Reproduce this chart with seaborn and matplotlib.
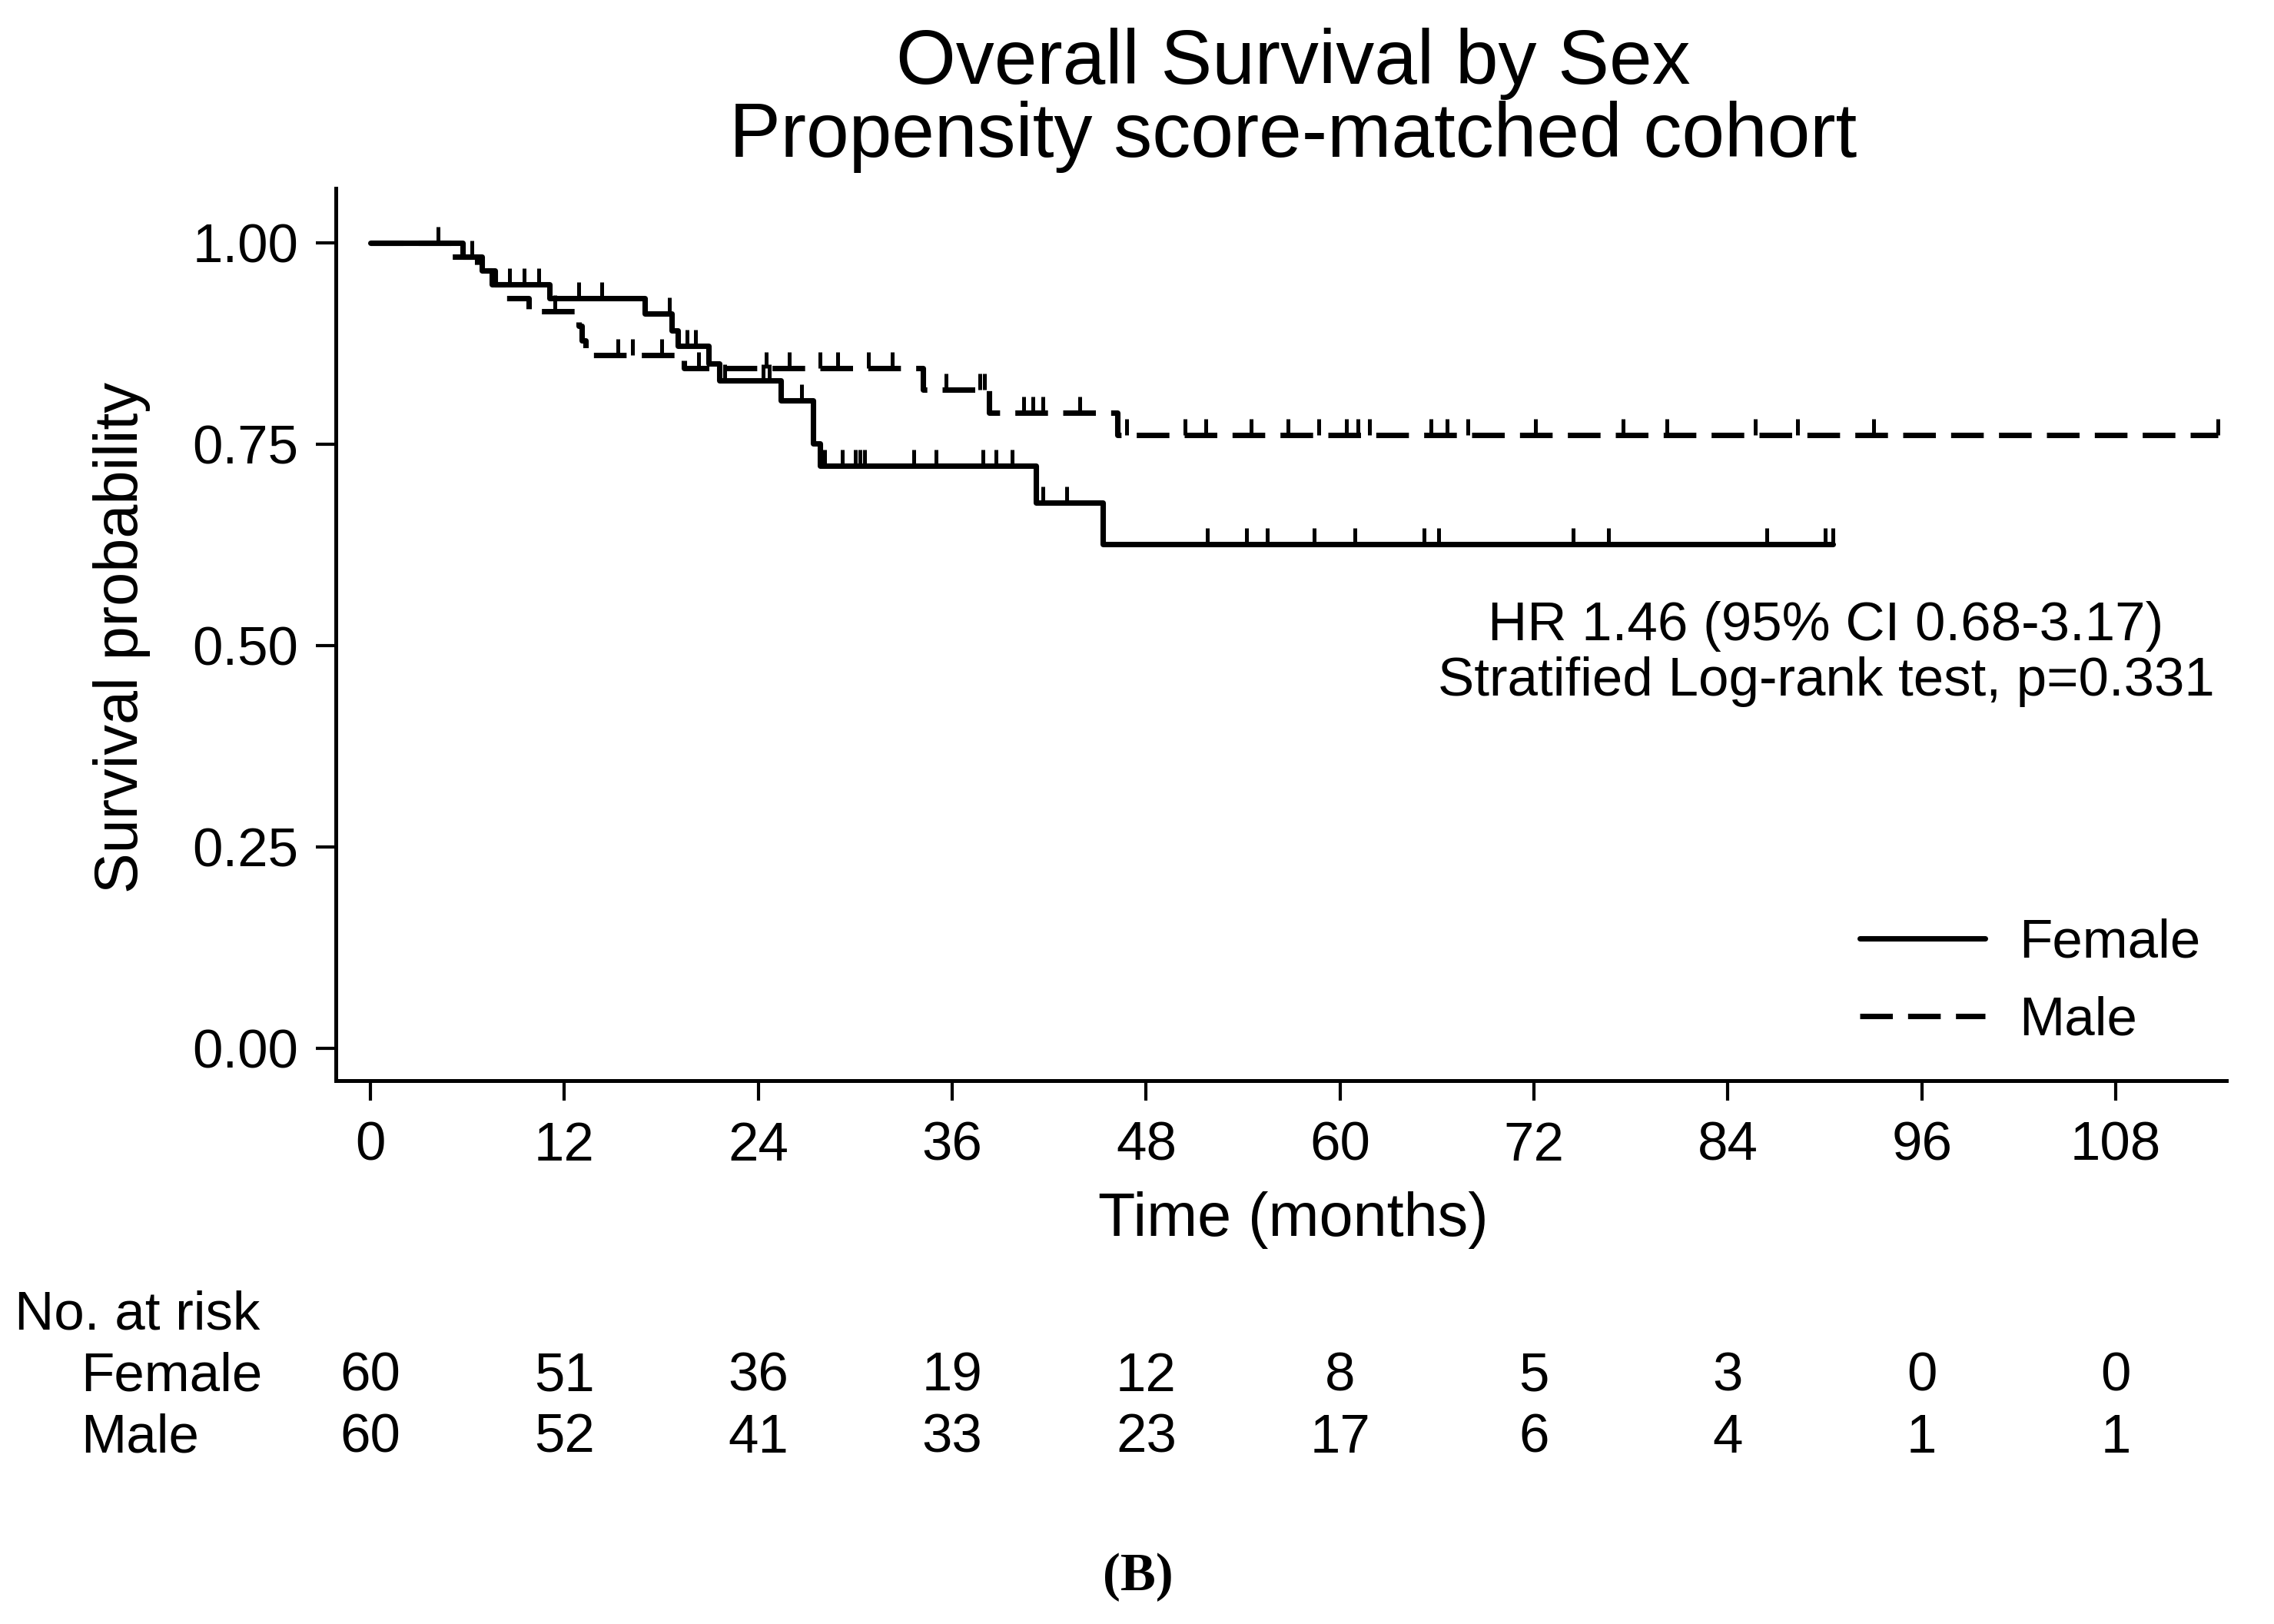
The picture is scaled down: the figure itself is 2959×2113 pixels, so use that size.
import numpy as np
import matplotlib
matplotlib.use("Agg")
import matplotlib.pyplot as plt
from matplotlib.path import Path
from matplotlib.markers import MarkerStyle
from matplotlib.transforms import blended_transform_factory
import seaborn as sns

# Kaplan-Meier steps (time in months, survival probability)
female_time = [0, 5.7, 6.9, 7.7, 11.1, 17.0, 18.65, 19.0, 20.9, 21.6, 25.4, 27.4, 27.8, 41.2, 45.3, 90.5]
female_surv = [1.0, 0.983, 0.966, 0.948, 0.931, 0.912, 0.891, 0.872, 0.850, 0.829, 0.804, 0.751, 0.723, 0.677, 0.626, 0.626]
female_censor = [4.2, 6.3, 8.6, 9.5, 10.4, 12.9, 14.3, 18.5, 19.6, 20.1, 21.9, 24.3, 24.7, 26.7,
                 28.1, 29.2, 30.0, 30.3, 30.6, 33.6, 35.0, 37.9, 38.7, 39.7, 41.6, 43.1,
                 51.8, 54.2, 55.5, 58.4, 60.9, 65.2, 66.1, 74.4, 76.6, 86.4, 90.0, 90.5]

male_time = [0, 5.0, 6.6, 7.5, 8.4, 9.8, 12.9, 13.1, 13.3, 19.4, 34.2, 38.3, 46.2, 114.3]
male_surv = [1.0, 0.983, 0.966, 0.948, 0.931, 0.915, 0.897, 0.879, 0.861, 0.844, 0.818, 0.789, 0.761, 0.761]
male_censor = [11.4, 15.3, 16.2, 18.0, 20.3, 24.5, 25.9, 27.8, 28.9, 30.8, 32.3, 35.6, 37.7, 38.0,
               40.4, 41.0, 41.6, 43.9, 46.8, 50.4, 51.7, 54.5, 56.8, 58.7, 60.4, 61.1, 61.8,
               65.6, 66.6, 67.9, 72.1, 77.5, 80.2, 85.7, 88.3, 93.0, 114.3]

# Number at risk table
risk_times = [0, 12, 24, 36, 48, 60, 72, 84, 96, 108]
risk_female = [60, 51, 36, 19, 12, 8, 5, 3, 0, 0]
risk_male = [60, 52, 41, 33, 23, 17, 6, 4, 1, 1]

y_ticks = [0.0, 0.25, 0.5, 0.75, 1.0]
y_ticklabels = ["0.00", "0.25", "0.50", "0.75", "1.00"]

sns.set_style("ticks")
plt.rcParams['font.family'] = ['Liberation Sans', 'DejaVu Sans']
plt.rcParams['text.color'] = 'black'
plt.rcParams['axes.labelcolor'] = 'black'

W, H = 2959, 2113
fig = plt.figure(figsize=(W / 300, H / 300), dpi=300)
ax = fig.add_axes([437 / W, 1 - 1406 / H, (2897 - 437) / W, (1406 - 245) / H])

lw = 1.7
sns.lineplot(x=female_time, y=female_surv, drawstyle="steps-post", estimator=None, sort=False,
             color="black", linewidth=lw, ax=ax, label="Female")
sns.lineplot(x=male_time, y=male_surv, drawstyle="steps-post", estimator=None, sort=False,
             color="black", linewidth=lw, linestyle=(0, (6, 2.8)), ax=ax, label="Male")


def level_at(times, surv, c):
    idx = np.searchsorted(times, c, side="right") - 1
    return np.asarray(surv)[idx]


# censoring ticks drawn upward from the curve
tick_marker = MarkerStyle(Path([[0, 0], [0, 1]], [Path.MOVETO, Path.LINETO]))
ax.plot(female_censor, level_at(female_time, female_surv, female_censor), ls="none",
        marker=tick_marker, ms=10, mew=1.2, color="black", label="_nolegend_")
ax.plot(male_censor, level_at(male_time, male_surv, male_censor), ls="none",
        marker=tick_marker, ms=10, mew=1.2, color="black", label="_nolegend_")

ax.set_xlim(-2.14, 114.84)
ax.set_ylim(-0.040, 1.0677)
ax.set_xticks(risk_times)
ax.set_yticks(y_ticks)
ax.set_yticklabels(y_ticklabels)
ax.tick_params(axis="both", direction="out", length=6.2, width=1.0, colors="black", labelsize=17)
ax.tick_params(axis="y", pad=5.5)
ax.tick_params(axis="x", pad=6.5)
for s in ["top", "right"]:
    ax.spines[s].set_visible(False)
for s in ["left", "bottom"]:
    ax.spines[s].set_linewidth(1.2)
    ax.spines[s].set_color("black")

ax.set_ylabel("Survival probability", fontsize=19)
ax.yaxis.label.set_va("center")
ax.yaxis.label.set_ha("center")
ax.yaxis.set_label_coords((158 - 437) / 2460, (1406 - 830) / 1161)
ax.set_xlabel("Time (months)", fontsize=19)
ax.xaxis.label.set_va("baseline")
ax.xaxis.set_label_coords((1683 - 437) / 2460, (1406 - 1608) / 1161)

ax.legend(frameon=False, fontsize=17, loc="center left",
          bbox_to_anchor=(2420 / W, 1 - 1278 / H), bbox_transform=fig.transFigure,
          borderpad=0, borderaxespad=0, handlelength=2.3, handletextpad=0.62, labelspacing=0.5)

# title
fig.text(1683 / W, 1 - 109 / H, "Overall Survival by Sex", ha="center", va="baseline", fontsize=24)
fig.text(1683 / W, 1 - 204 / H, "Propensity score-matched cohort", ha="center", va="baseline", fontsize=24)

# HR annotation
fig.text(2376 / W, 1 - 833 / H, "HR 1.46 (95% CI 0.68-3.17)", ha="center", va="baseline", fontsize=17)
fig.text(2376 / W, 1 - 905 / H, "Stratified Log-rank test, p=0.331", ha="center", va="baseline", fontsize=17)

# number at risk table
trans = blended_transform_factory(ax.transData, fig.transFigure)
fig.text(19 / W, 1 - 1730 / H, "No. at risk", ha="left", va="baseline", fontsize=17)
fig.text(105 / W, 1 - 1810 / H, "Female", ha="left", va="baseline", fontsize=17)
fig.text(105 / W, 1 - 1890 / H, "Male", ha="left", va="baseline", fontsize=17)
for t, nf, nm in zip(risk_times, risk_female, risk_male):
    ax.text(t, 1 - 1810 / H, str(nf), transform=trans, ha="center", va="baseline", fontsize=17)
    ax.text(t, 1 - 1890 / H, str(nm), transform=trans, ha="center", va="baseline", fontsize=17)

fig.text(1481 / W, 1 - 2069 / H, "(B)", ha="center", va="baseline", fontsize=16.5,
         fontweight="bold", family=["Liberation Serif", "DejaVu Serif"])

fig.savefig("out.png", dpi=300)
